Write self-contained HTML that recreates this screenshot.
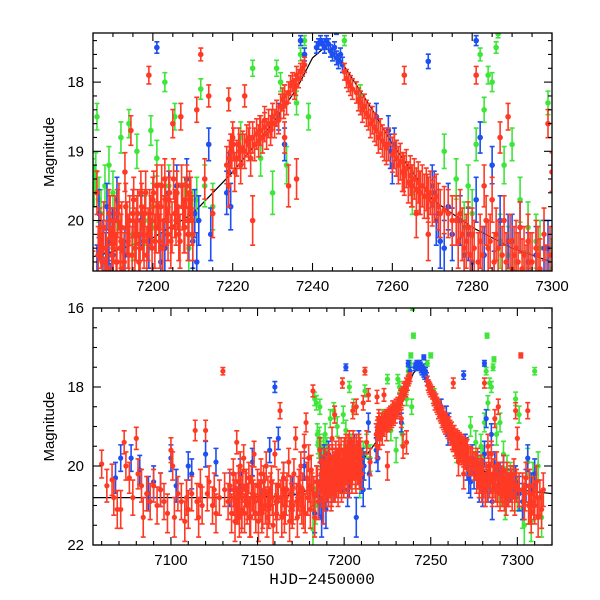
<!DOCTYPE html>
<html><head><meta charset="utf-8"><style>
html,body{margin:0;padding:0;background:#fff;}
svg{display:block;font-family:"Liberation Sans",sans-serif;}
</style></head><body>
<svg id="chart" width="600" height="600" viewBox="0 0 600 600">
<defs>
<clipPath id="clipTop"><rect x="93" y="33" width="459" height="238"/></clipPath>
<clipPath id="clipBot"><rect x="93" y="308" width="459" height="237"/></clipPath>
</defs>
</svg>
<script>
const redDays=[7060,7063,7066,7067,7069,7071,7073,7074,7076,7078,7080,7081,7083,7084,7086,7088,7090,7092,7094,7096,7098,7100,7101,7102,7104,7106,7108,7109,7110,7112,7114,7115,7116,7117,7118,7120,7121,7122,7124,7125,7126,7128,7130,7131,
7133,7134,7135,7136,7136.5,7137,7137.5,7138,7138.5,7139,7139.5,7140,7140.5,7141,7141.5,7142,7142.5,7143,7144,7145,7146,7147,7148,7148.5,7149,7150,7150.5,7151,7152,7153,7154,7155,7155.5,7156,7157,7158,7159,7160,7160.5,7161,7162,7163,7163.5,7164,7165,7166,7167,7168,7168.5,7169,7170,7171,7172,7172.5,7173,7174,7175,7175.5,7176,7177,7177.5,7178,7178.5,7179,7179.5,7180,7180.5,7181,7182,7182.5,7183,7184,7185,7186,7187,7188,7189,7190,7190.5,7191,7191.5,7192,7192.5,7193,7193.5,7194,7194.5,7195,7195.5,7196,7196.5,7197,7197.5,7198,7198.5,7199,7199.5,7200,7200.5,7201,7201.5,7202,7202.5,7203,7203.5,7204,7204.5,7205,7205.5,7206,7206.5,7207,7207.5,7208,7208.5,7209,7209.5,7210,7211,7212,7213,7214,7215,
7218.5,7219,7219.5,7220,7220.5,7221,7221.5,7222,7222.5,7223,7223.5,7224,7224.5,7225,7225.5,7226,7226.5,7227,7227.5,7228,7228.5,7229,7229.5,7230,7230.5,7231,7231.5,7232,7232.5,7233,7233.5,7234,7234.5,7235,7235.5,7236,7236.5,7237,7237.5,7238,7234,7236,7233,7223,7219,7228,7225,
7248,7248.5,7249,7249.5,7250,7251,7251.5,7252,7253,7253.5,7254,7255,7255.5,7256,7257,7257.5,7258,7261,7261.5,7262,7262.5,7263,7263.5,7264,7264.5,7265,7265.5,7266,7266.5,7267,7267.5,7268,7268.5,7269,7269.5,7270,7271,7271.5,7272,7263,7269,7266,
7276,7276.5,7277,7277.5,7278,7279,7279.5,7280,7281,7281.5,7282,7283,7283.5,7284,7285,7285.5,7286,7287,7287.5,7288,7289,7289.5,7290,7291,7291.5,7292,7293,7293.5,7294,7295,7296,7297,7298,7299,7299.5,7300,7302,7303,7304,7305,7306,7306.5,7307,7308,7309,7310,7311,7312,7313,7315,
7186.3,7186.7,7187.3,7187.7,7188.3,7188.7,7189.3,7189.7,7190.2,7190.8,7191.2,7191.8,7192.2,7192.8,7193.2,7193.8,7194.2,7194.8,7195.2,7195.8,7196.2,7196.8,7197.2,7197.8,7198.2,7198.8,7199.2,7199.8,7200.2,7200.8,7201.2,7201.8,7202.2,7202.8,7203.2,7203.8,7204.2,7204.8,7205.2,7205.8,7206.2,7206.8,7207.2,7207.8,7208.2,7208.8,7209.2,7209.8,
7136.2,7137.8,7139.2,7140.8,7143.5,7144.5,7145.5,7146.5,7147.5,7151.5,7152.5,7153.5,7154.5,7156.5,7157.5,7158.5,7161.5,7164.5,7165.5,7166.5,7169.5,7170.5,7173.5,7174.5,7176.5,7181.5,7184.5,
7219.2,7219.8,7220.2,7221.8,7224.2,7226.8,7229.8,7232.8,7235.8,7252.5,7254.5,7256.5,7258.5,7259,7260,7260.5,7262.8,7264.8,7266.8,7268.8,7270.5,7273,7274,7275,7278.5,7280.5,7282.5,7284.5,7286.5,7288.5,7290.5,7292.5,7294.5,7296.5,7298.5,7301,7304.5,7307.5,7309.5,7311.5,7314];
const redMags=[19.95,20.5,20.35,20.8,21.1,21.1,19.4,20.0,20.3,20.8,19.3,20.2,20.5,21.3,20.7,20.9,20.5,21.0,20.6,20.9,21.2,19.6,20.0,21.3,20.7,20.9,21.4,20.8,21.1,20.7,19.1,20.9,21.3,20.5,21.0,19.1,20.7,20.4,21.0,20.6,21.2,20.8,17.6,20.6,
20.9,20.5,21.2,20.2,20.8,21.4,20.6,19.4,21.0,20.4,21.3,20.0,20.7,21.1,20.5,19.8,21.2,20.6,21.0,20.3,21.3,20.7,19.7,20.9,21.2,20.5,21.4,20.8,20.2,21.1,20.6,20.0,21.3,20.7,21.0,20.4,21.5,19.7,20.9,21.2,20.5,18.6,20.8,21.3,20.3,21.0,20.6,19.9,21.4,20.7,21.1,20.2,19.3,20.9,21.3,20.5,20.0,21.0,20.6,19.5,21.2,18.9,20.3,20.8,19.8,20.5,21.1,20.1,18.1,20.7,21.3,20.4,20.9,19.6,20.3,21.0,19.9,20.4,20.0,20.6,19.8,20.3,20.7,19.3,20.1,20.5,18.7,19.9,20.4,20.0,20.6,19.6,20.2,19.9,20.5,17.9,20.0,19.7,20.3,19.5,20.1,19.8,20.4,19.4,20.0,19.7,20.3,18.6,19.9,19.6,20.2,18.5,19.8,20.1,19.5,20.0,19.7,20.2,18.4,17.6,19.4,18.2,19.9,
19.2,19.5,19.0,18.8,19.3,19.1,18.9,19.2,18.95,19.0,18.85,18.9,19.1,18.8,18.9,18.75,18.85,18.7,18.8,18.65,18.75,18.6,18.7,18.5,18.6,18.45,18.55,18.35,18.25,18.2,18.3,18.15,18.05,18.0,18.1,17.9,17.95,17.85,17.8,17.75,19.5,19.4,18.8,18.2,18.25,18.55,20.0,
17.85,17.95,18.0,18.05,18.1,18.15,18.25,18.3,18.35,18.45,18.5,18.55,18.65,18.7,18.75,18.85,18.9,19.1,19.2,19.15,19.3,19.35,19.25,19.45,19.35,19.5,19.4,19.55,19.45,19.6,19.5,19.65,19.55,19.7,19.6,19.75,19.65,19.8,19.9,17.9,20.2,19.9,
20.0,20.3,19.9,20.2,20.4,20.1,20.5,20.2,17.9,20.6,20.3,19.5,20.0,20.4,19.7,20.6,20.2,18.8,20.5,20.0,18.5,20.3,20.7,20.4,20.6,20.1,20.5,20.8,20.3,20.6,20.4,20.7,20.2,18.6,20.5,19.3,17.2,20.6,20.9,20.3,18.6,21.0,20.5,21.2,20.7,21.0,20.4,21.3,20.8,20.6,
20.5,20.2,20.6,20.1,20.4,20.7,20.0,20.5,20.2,20.6,19.9,20.4,20.1,20.6,19.8,20.3,20.0,20.5,19.7,20.2,19.9,20.4,19.8,20.3,19.6,20.2,19.9,20.4,19.6,20.1,19.8,20.3,19.5,20.0,19.7,20.2,19.6,20.1,19.4,20.0,19.8,20.3,19.5,20.1,19.7,20.2,19.6,20.0,
20.6,21.0,20.8,21.2,20.5,20.9,21.3,20.4,20.8,20.9,21.2,20.4,21.0,21.1,20.6,20.8,20.9,20.6,21.2,20.8,20.9,21.0,20.7,20.8,21.1,20.6,20.4,
19.1,19.0,18.9,19.0,18.8,18.7,18.6,18.35,18.05,18.4,18.6,18.8,18.95,18.9,19.05,19.0,19.3,19.5,19.6,19.65,19.7,19.85,19.9,20.0,20.3,20.4,20.5,20.3,20.4,20.6,20.5,20.7,20.6,20.5,20.8,20.6,20.7,21.0,20.9,20.8,21.1];
const blueDays=[7068,7071,7077,7082,7087,7090,7094,7100,7103,7110,7112,7120,7126,7134,7140,7147,7152,7157,7160,7162,7165,7170,7177,7183,7186,7187,7187.5,7188,7188.5,7189,7189.5,7190,7195,7201,7203,7204,7207,7208.5,7210,7210.5,7211,7214,7214.5,7219,7219.5,7218.5,7231.5,7233,7237,7238,7241,7241.5,7242,7242.5,7243,7243.5,7244,7244.5,7245,7245.5,7246,7246.5,7247,7247.5,7246,7252,7256,7259,7259.5,7260,7260.5,7261,7269,7270,7271,7272,7274,7279,7280,7281,7282,7283,7285,7287,7289,7292,7296,7299,7303,7306,7308,7310,7281,7285.5,7186.5,7188.2,7189.8,7191,7193,7197,7199,7202,7206,7209,7211.5,7270.5,7271.5,7273,7275,7277,7278,7290,7294,7298,7301,7305];
const blueMags=[20.3,19.8,19.8,20.1,20.7,20.4,20.6,19.8,20.5,20.0,20.2,19.7,19.9,20.6,20.2,19.9,20.8,19.6,18.0,19.3,20.3,20.7,20.0,21.2,20.8,21.3,20.4,21.0,19.8,20.3,21.1,20.5,19.9,17.5,20.4,19.6,21.3,19.4,20.3,19.9,20.6,18.9,20.2,19.3,19.8,19.6,18.5,18.9,17.4,17.6,17.5,17.45,17.4,17.45,17.5,17.4,17.45,17.55,17.6,17.5,17.65,17.7,17.6,17.75,17.25,18.3,18.5,18.7,19.0,19.2,18.9,19.1,17.7,19.5,20.0,20.3,19.8,20.2,20.6,19.7,18.8,20.5,19.2,20.0,20.3,20.1,20.5,20.4,20.9,19.8,20.6,20.2,17.4,20.9,19.9,20.6,20.2,19.7,20.5,20.0,20.3,20.6,19.5,20.2,20.0,19.6,19.9,20.4,20.2,20.0,20.5,20.3,20.6,20.4,20.7,20.5];
const greenDays=[7186,7187,7188,7190,7192,7194,7196,7198,7199.5,7201,7203,7204,7205.5,7208,7210,7212,7213,7215,7222,7225,7227,7230,7232,7233.5,7236,7238,7239,7245,7248,7252,7256,7265,7273,7276,7279,7281,7282,7283,7284,7285,7286,7288,7290,7292,7294,7296,7299,7301,7303,7306,7308,7310,7312,7314,7183,7184,7184.5,7185,7182,7183.5,7239.5,7240,7238.5,7250,7286.5,7282.5,7185.3,7185.7,7186.5,7189,7191,7195,7200,7206,7209,7211,7231,7233,7237,7278,7280,7287,7289,7291,7293,7297,7300,7304,7307,7309];
const greenMags=[18.5,19.9,19.5,19.6,18.8,18.6,19.0,20.0,18.7,19.1,18.0,19.5,18.5,19.7,19.9,18.1,19.5,19.8,18.8,17.8,19.1,19.6,18.0,19.2,18.3,17.4,18.5,17.6,17.4,18.2,18.7,19.6,19.0,19.4,19.5,18.9,17.6,18.4,17.9,18.0,17.5,19.2,18.9,19.7,20.1,20.3,18.3,18.7,21.1,19.9,21.4,17.6,20.0,21.3,18.3,18.4,19.2,19.4,21.6,21.0,16.0,16.7,17.2,17.2,17.3,16.7,19.5,19.3,19.7,19.2,19.9,20.2,19.8,19.6,20.4,19.7,17.8,18.2,17.6,20.1,19.9,20.3,20.5,20.6,20.9,20.4,20.7,21.5,21.0,20.3];
const modelDays=[7050,7130,7170,7190,7200,7210,7220,7230,7236,7240,7243,7246,7250,7255,7260,7265,7270,7280,7290,7300,7320];
const modelMags=[20.8,20.8,20.75,20.45,20.25,19.9,19.3,18.6,18.1,17.65,17.5,17.6,17.95,18.4,18.9,19.3,19.7,20.1,20.4,20.6,20.7];
const topXTicks=["7200","7220","7240","7260","7280","7300"];
const topYTicks=["18","19","20"];
const botXTicks=["7100","7150","7200","7250","7300"];
const botYTicks=["16","18","20","22"];

const NS="http://www.w3.org/2000/svg";
const svg=document.getElementById('chart');
function mk(tag,attrs,parent){const e=document.createElementNS(NS,tag);for(const k in attrs)e.setAttribute(k,attrs[k]);(parent||svg).appendChild(e);return e;}

const panels=[
 {key:'top',x0:93,x1:552,y0:33,y1:271,tmin:7185,tmax:7300,mmin:17.29,mmax:20.73,xMajor:20,xMinor:5,yMajor:1,yMinor:0.2,xt:topXTicks,yt:topYTicks,clip:'clipTop',r:2.8},
 {key:'bottom',x0:93,x1:552,y0:308,y1:545,tmin:7055,tmax:7320,mmin:16,mmax:22,xMajor:50,xMinor:10,yMajor:2,yMinor:0.5,xt:botXTicks,yt:botYTicks,clip:'clipBot',r:2.6}
];
function errOf(m){return 0.06+0.11*Math.max(0,m-17.3);}

panels.forEach(p=>{
 const sx=t=>p.x0+(t-p.tmin)/(p.tmax-p.tmin)*(p.x1-p.x0);
 const sy=m=>p.y0+(m-p.mmin)/(p.mmax-p.mmin)*(p.y1-p.y0);
 const g=mk('g',{'clip-path':'url(#'+p.clip+')'});
 
 
 let d='';modelDays.forEach((t,i)=>{d+=(i?'L':'M')+sx(t).toFixed(1)+' '+sy(modelMags[i]).toFixed(1);});
 const ml=mk('path',{d:d,fill:'none',stroke:'#000','stroke-width':1.2},g);
 
 
 const series=[['green',greenDays,greenMags,'#3ee63a'],['blue',blueDays,blueMags,'#1d4ff2'],['red',redDays,redMags,'#ff3a24']];
 series.forEach(([nm,T,M,col])=>{
  const sg=mk('g',{fill:col,stroke:col,'stroke-width':1.6},g);
  
  
  T.forEach((t,i)=>{
   const x=sx(t),y=sy(M[i]),e=errOf(M[i]);
   const ya=sy(M[i]-e),yb=sy(M[i]+e);
   mk('path',{d:`M${x} ${ya}V${yb}M${x-2.5} ${ya}H${x+2.5}M${x-2.5} ${yb}H${x+2.5}`,fill:'none'},sg);
   const c=mk('circle',{cx:x,cy:y,r:p.r,stroke:'none'},sg);
   
   
  });
 });
 const fr=mk('rect',{x:p.x0,y:p.y0,width:p.x1-p.x0,height:p.y1-p.y0,fill:'none',stroke:'#000','stroke-width':1.3});
 
 
 const tk=mk('g',{stroke:'#000','stroke-width':1.1});
 
 
 for(let t=Math.ceil(p.tmin/p.xMinor)*p.xMinor;t<=p.tmax+1e-6;t+=p.xMinor){
  const maj=Math.abs(t/p.xMajor-Math.round(t/p.xMajor))<1e-6,L=maj?8:4,x=sx(t);
  mk('line',{x1:x,x2:x,y1:p.y1,y2:p.y1-L},tk);mk('line',{x1:x,x2:x,y1:p.y0,y2:p.y0+L},tk);
 }
 for(let m=Math.ceil(p.mmin/p.yMinor-1e-6)*p.yMinor;m<=p.mmax+1e-6;m+=p.yMinor){
  const maj=Math.abs(m/p.yMajor-Math.round(m/p.yMajor))<1e-6,L=maj?8:4,y=sy(m);
  mk('line',{x1:p.x0,x2:p.x0+L,y1:y,y2:y},tk);mk('line',{x1:p.x1,x2:p.x1-L,y1:y,y2:y},tk);
 }
 p.xt.forEach(s=>{const tx=mk('text',{x:sx(+s),y:p.y1+20,'text-anchor':'middle','font-size':15});tx.textContent=s;
  });
 p.yt.forEach(s=>{const tx=mk('text',{x:p.x0-9,y:sy(+s)+5,'text-anchor':'end','font-size':15});tx.textContent=s;
  });
 const yl=mk('text',{x:0,y:0,transform:`translate(54 ${(p.y0+p.y1)/2}) rotate(-90)`,'text-anchor':'middle','font-size':15});
 yl.textContent='Magnitude';
 
 
});
const xl=mk('text',{x:322,y:584,'text-anchor':'middle','font-size':16,'font-family':'Liberation Mono, monospace'});
xl.textContent='HJD\u22122450000';


</script>
</body></html>
